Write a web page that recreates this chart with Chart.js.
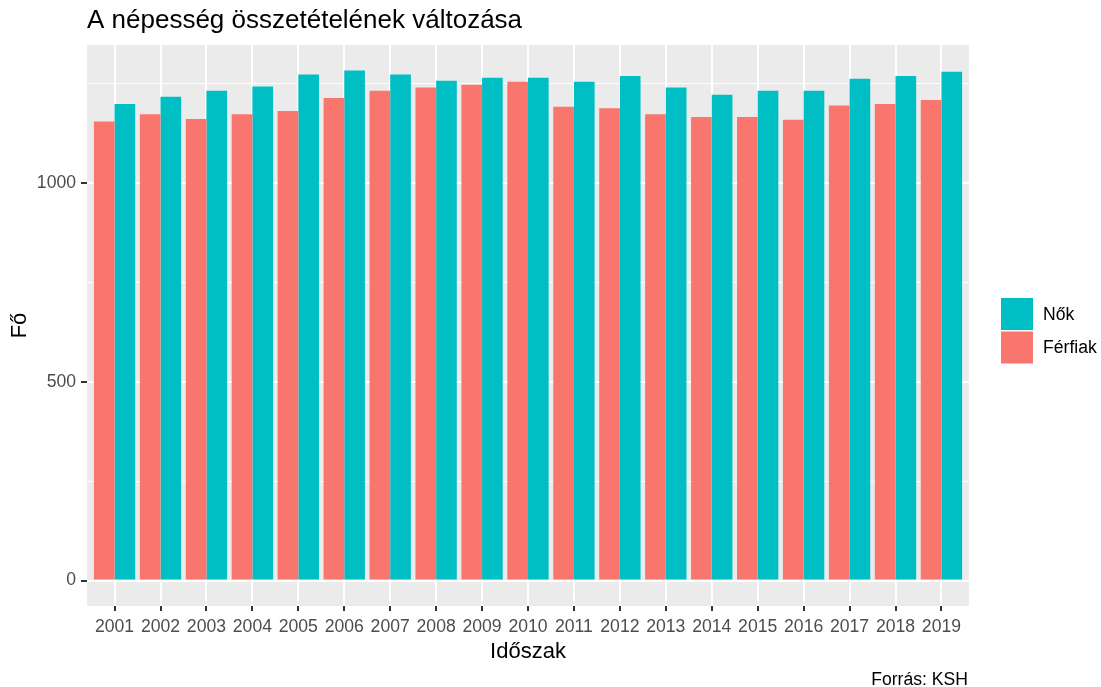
<!DOCTYPE html>
<html>
<head>
    <meta charset="utf-8">
    <script src="https://cdn.jsdelivr.net/npm/chart.js@4.4.0/dist/chart.umd.min.js"></script>
    <style>
        body { margin: 0; background: #ffffff; }
        #chart-container { width: 1101px; height: 687px; }
    </style>
</head>
<body>
    <div id="chart-container">
        <canvas id="popChart" width="1101" height="687"></canvas>
    </div>
    <script>
        // values
        const years = ['2001', '2002', '2003', '2004', '2005', '2006', '2007', '2008', '2009', '2010',
            '2011', '2012', '2013', '2014', '2015', '2016', '2017', '2018', '2019'];
        const ferfiak = [1155, 1173, 1161, 1173, 1181, 1214, 1232, 1240, 1247, 1255,
            1192, 1188, 1173, 1166, 1166, 1159, 1195, 1199, 1209];
        const nok = [1199, 1217, 1232, 1243, 1273, 1283, 1273, 1257, 1265, 1265,
            1255, 1269, 1240, 1222, 1232, 1232, 1262, 1269, 1280];
        const yTicks = [0, 250, 500, 750, 1000, 1250];
        const legendLabels = ['Nők', 'Férfiak'];

        const FONT = "'Liberation Sans', Arial, sans-serif";
        const RED = '#F8766D';
        const TEAL = '#00BFC4';
        Chart.defaults.font.family = FONT;

        const toPoints = arr => arr.map((v, i) => ({ x: i, y: v }));

        const ggExtras = {
            id: 'ggExtras',
            beforeDraw(chart) {
                const { ctx, chartArea: a } = chart;
                ctx.save();
                ctx.fillStyle = '#EBEBEB';
                ctx.fillRect(a.left, a.top, a.right - a.left, a.bottom - a.top);
                ctx.restore();
            },
            afterDraw(chart) {
                const ctx = chart.ctx;
                ctx.save();
                // title
                ctx.fillStyle = '#000000';
                ctx.font = '26px ' + FONT;
                ctx.textAlign = 'left';
                ctx.textBaseline = 'alphabetic';
                ctx.fillText('A népesség összetételének változása', 87, 28);
                // caption
                ctx.font = '17.6px ' + FONT;
                ctx.textAlign = 'right';
                ctx.fillText('Forrás: KSH', 968, 685);
                // legend
                const cols = [TEAL, RED];
                ctx.textAlign = 'left';
                ctx.textBaseline = 'middle';
                legendLabels.forEach((lab, i) => {
                    const y = 298 + i * 33.5;
                    ctx.fillStyle = cols[i];
                    ctx.fillRect(1001, y, 32, 32);
                    ctx.fillStyle = '#000000';
                    ctx.fillText(lab, 1043, y + 17);
                });
                ctx.restore();
            }
        };

        const chart = new Chart(document.getElementById('popChart'), {
            type: 'bar',
            data: {
                datasets: [
                    { label: 'Férfiak', data: toPoints(ferfiak), backgroundColor: RED },
                    { label: 'Nők', data: toPoints(nok), backgroundColor: TEAL }
                ]
            },
            options: {
                responsive: false,
                animation: false,
                categoryPercentage: 0.9,
                barPercentage: 1.0,
                layout: { padding: { left: 0, top: 45, right: 132, bottom: 0 } },
                plugins: {
                    legend: { display: false },
                    tooltip: { enabled: false }
                },
                scales: {
                    x: {
                        type: 'linear',
                        offset: false,
                        min: -0.6,
                        max: 18.6,
                        afterFit: s => { s.height = 81; },
                        afterBuildTicks: s => { s.ticks = years.map((y, i) => ({ value: i })); },
                        border: { display: false },
                        grid: {
                            offset: false,
                            color: '#ffffff',
                            lineWidth: 2,
                            tickColor: '#333333',
                            tickLength: 5
                        },
                        ticks: {
                            autoSkip: false,
                            maxRotation: 0,
                            padding: 6,
                            color: '#4D4D4D',
                            font: { size: 17.6 },
                            callback: v => years[v]
                        },
                        title: {
                            display: true,
                            text: 'Időszak',
                            color: '#000000',
                            font: { size: 22 },
                            padding: { top: 0, bottom: 22 }
                        }
                    },
                    y: {
                        min: -64.15,
                        max: 1347.15,
                        afterFit: s => { s.width = 87; },
                        afterBuildTicks: s => { s.ticks = yTicks.map(v => ({ value: v })); },
                        border: { display: false },
                        grid: {
                            color: '#ffffff',
                            lineWidth: c => (c.tick && c.tick.value % 500 === 0 ? 2 : 1),
                            tickColor: c => (c.tick && c.tick.value % 500 === 0 ? '#333333' : 'rgba(0,0,0,0)'),
                            tickLength: 6
                        },
                        ticks: {
                            padding: 5,
                            color: '#4D4D4D',
                            font: { size: 17.6 },
                            callback: v => (v % 500 === 0 ? String(v) : '')
                        },
                        title: {
                            display: true,
                            text: 'Fő',
                            color: '#000000',
                            font: { size: 22 },
                            padding: { top: 7, bottom: 0 }
                        }
                    }
                }
            },
            plugins: [ggExtras]
        });
    </script>
</body>
</html>
